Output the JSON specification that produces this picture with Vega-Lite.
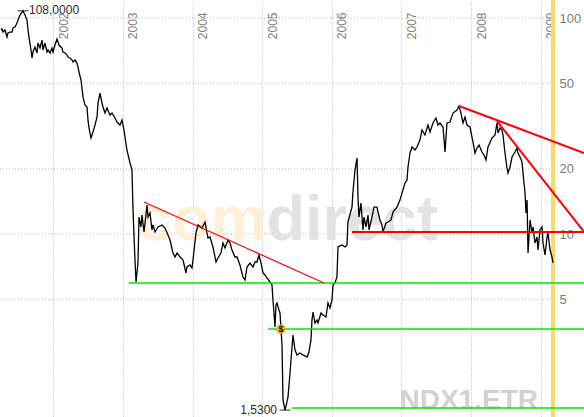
{
  "$schema": "https://vega.github.io/schema/vega-lite/v6.json",
  "width": 584,
  "height": 417,
  "autosize": {"type": "none"},
  "padding": 0,
  "background": "white",
  "config": {"view": {"stroke": null}, "font": "Liberation Sans"},
  "datasets": {
    "price": [
      {"t":2001.249,"v":87.99},{"t":2001.263,"v":88.93},{"t":2001.278,"v":86.13},{"t":2001.306,"v":87.99},{"t":2001.335,"v":81.66},{"t":2001.349,"v":85.22},{"t":2001.378,"v":86.13},{"t":2001.407,"v":86.13},{"t":2001.421,"v":89.89},{"t":2001.450,"v":90.85},
      {"t":2001.479,"v":94.81},{"t":2001.493,"v":97.89},{"t":2001.522,"v":103.25},{"t":2001.550,"v":106.6},{"t":2001.565,"v":108.0},{"t":2001.579,"v":105.47},{"t":2001.594,"v":103.25},{"t":2001.622,"v":97.89},{"t":2001.637,"v":87.99},{"t":2001.651,"v":81.66},
      {"t":2001.680,"v":71.09},{"t":2001.694,"v":65.28},{"t":2001.708,"v":69.59},{"t":2001.737,"v":73.4},{"t":2001.766,"v":68.86},{"t":2001.780,"v":76.6},{"t":2001.809,"v":72.63},{"t":2001.838,"v":79.09},{"t":2001.852,"v":71.09},{"t":2001.881,"v":76.6},
      {"t":2001.910,"v":69.59},{"t":2001.924,"v":71.09},{"t":2001.953,"v":68.86},{"t":2001.981,"v":72.63},{"t":2001.996,"v":69.59},{"t":2002.024,"v":74.99},{"t":2002.053,"v":79.94},{"t":2002.082,"v":74.99},{"t":2002.125,"v":72.63},{"t":2002.139,"v":69.59},
      {"t":2002.168,"v":68.86},{"t":2002.197,"v":67.4},{"t":2002.211,"v":65.98},{"t":2002.240,"v":65.28},{"t":2002.269,"v":63.9},{"t":2002.283,"v":62.56},{"t":2002.312,"v":63.9},{"t":2002.340,"v":61.89},{"t":2002.355,"v":59.31},{"t":2002.369,"v":56.23},
      {"t":2002.398,"v":51.63},{"t":2002.427,"v":43.07},{"t":2002.455,"v":39.55},{"t":2002.484,"v":38.72},{"t":2002.498,"v":33.71},{"t":2002.513,"v":30.95},{"t":2002.541,"v":27.82},{"t":2002.570,"v":29.66},{"t":2002.599,"v":31.96},{"t":2002.628,"v":34.81},
      {"t":2002.642,"v":40.41},{"t":2002.671,"v":44.95},{"t":2002.699,"v":40.41},{"t":2002.714,"v":38.72},{"t":2002.743,"v":36.32},{"t":2002.771,"v":38.31},{"t":2002.814,"v":35.55},{"t":2002.843,"v":36.32},{"t":2002.886,"v":34.44},{"t":2002.915,"v":33.0},
      {"t":2002.958,"v":31.96},{"t":2002.987,"v":33.71},{"t":2003.015,"v":30.3},{"t":2003.058,"v":24.48},{"t":2003.102,"v":21.32},{"t":2003.130,"v":19.78},{"t":2003.145,"v":12.91},{"t":2003.173,"v":7.579},{"t":2003.188,"v":5.995},{"t":2003.216,"v":7.341},
      {"t":2003.231,"v":11.98},{"t":2003.259,"v":10.78},{"t":2003.274,"v":12.24},{"t":2003.303,"v":10.22},{"t":2003.346,"v":13.62},{"t":2003.360,"v":11.98},{"t":2003.389,"v":12.51},{"t":2003.417,"v":10.44},{"t":2003.432,"v":11.01},{"t":2003.461,"v":10.22},
      {"t":2003.504,"v":10.78},{"t":2003.561,"v":11.01},{"t":2003.604,"v":10.66},{"t":2003.647,"v":9.894},{"t":2003.676,"v":9.381},{"t":2003.719,"v":8.167},{"t":2003.748,"v":7.826},{"t":2003.777,"v":8.167},{"t":2003.820,"v":7.826},{"t":2003.863,"v":7.579},
      {"t":2003.906,"v":6.599},{"t":2003.920,"v":7.034},{"t":2003.963,"v":7.186},{"t":2003.992,"v":6.96},{"t":2004.006,"v":7.579},{"t":2004.049,"v":10.11},{"t":2004.078,"v":11.01},{"t":2004.136,"v":10.66},{"t":2004.179,"v":11.37},{"t":2004.207,"v":10.11},
      {"t":2004.222,"v":9.583},{"t":2004.250,"v":9.686},{"t":2004.293,"v":8.706},{"t":2004.337,"v":7.42},{"t":2004.365,"v":7.743},{"t":2004.408,"v":8.167},{"t":2004.437,"v":9.086},{"t":2004.466,"v":8.614},{"t":2004.509,"v":9.381},{"t":2004.538,"v":9.086},
      {"t":2004.566,"v":8.432},{"t":2004.609,"v":7.826},{"t":2004.638,"v":7.826},{"t":2004.681,"v":7.186},{"t":2004.724,"v":6.323},{"t":2004.753,"v":6.124},{"t":2004.782,"v":7.034},{"t":2004.825,"v":7.341},{"t":2004.868,"v":7.034},{"t":2004.897,"v":7.42},
      {"t":2004.925,"v":7.42},{"t":2004.954,"v":7.994},{"t":2004.983,"v":7.341},{"t":2005.012,"v":6.599},{"t":2005.040,"v":6.459},{"t":2005.069,"v":6.256},{"t":2005.112,"v":5.995},{"t":2005.141,"v":5.806},{"t":2005.155,"v":4.948},{"t":2005.184,"v":3.711},
      {"t":2005.198,"v":4.691},{"t":2005.213,"v":4.792},{"t":2005.241,"v":4.448},{"t":2005.256,"v":4.308},{"t":2005.270,"v":3.632},{"t":2005.285,"v":3.063},{"t":2005.299,"v":1.704},{"t":2005.328,"v":1.53},{"t":2005.356,"v":1.668},{"t":2005.371,"v":1.759},
      {"t":2005.400,"v":2.272},{"t":2005.428,"v":2.999},{"t":2005.443,"v":3.407},{"t":2005.471,"v":2.904},{"t":2005.500,"v":2.754},{"t":2005.543,"v":2.813},{"t":2005.586,"v":2.754},{"t":2005.644,"v":2.695},{"t":2005.672,"v":2.843},{"t":2005.701,"v":3.231},
      {"t":2005.715,"v":3.998},{"t":2005.730,"v":4.354},{"t":2005.758,"v":3.872},{"t":2005.787,"v":3.998},{"t":2005.802,"v":3.872},{"t":2005.845,"v":4.308},{"t":2005.873,"v":4.217},{"t":2005.917,"v":4.128},{"t":2005.945,"v":4.792},{"t":2005.974,"v":4.544},
      {"t":2006.003,"v":4.948},{"t":2006.017,"v":5.806},{"t":2006.046,"v":5.931},{"t":2006.074,"v":6.323},{"t":2006.089,"v":8.706},{"t":2006.146,"v":8.894},{"t":2006.189,"v":8.706},{"t":2006.218,"v":8.894},{"t":2006.232,"v":11.37},{"t":2006.290,"v":13.33},
      {"t":2006.304,"v":15.64},{"t":2006.333,"v":19.78},{"t":2006.362,"v":22.48},{"t":2006.376,"v":14.83},{"t":2006.390,"v":11.98},{"t":2006.419,"v":13.91},{"t":2006.448,"v":10.44},{"t":2006.462,"v":11.98},{"t":2006.491,"v":10.78},{"t":2006.520,"v":12.24},
      {"t":2006.534,"v":10.44},{"t":2006.577,"v":11.98},{"t":2006.606,"v":13.33},{"t":2006.649,"v":13.33},{"t":2006.663,"v":12.64},{"t":2006.692,"v":11.61},{"t":2006.721,"v":11.01},{"t":2006.735,"v":10.22},{"t":2006.778,"v":11.24},{"t":2006.807,"v":11.37},
      {"t":2006.850,"v":11.61},{"t":2006.879,"v":12.64},{"t":2006.936,"v":13.33},{"t":2006.979,"v":14.36},{"t":2007.022,"v":15.98},{"t":2007.051,"v":17.22},{"t":2007.080,"v":17.78},{"t":2007.094,"v":20.43},{"t":2007.123,"v":23.71},{"t":2007.152,"v":25.28},
      {"t":2007.195,"v":24.48},{"t":2007.223,"v":25.28},{"t":2007.266,"v":27.24},{"t":2007.295,"v":30.3},{"t":2007.338,"v":28.73},{"t":2007.381,"v":31.96},{"t":2007.410,"v":29.66},{"t":2007.453,"v":32.65},{"t":2007.496,"v":34.44},{"t":2007.525,"v":31.96},
      {"t":2007.554,"v":32.65},{"t":2007.597,"v":31.29},{"t":2007.626,"v":23.97},{"t":2007.654,"v":32.65},{"t":2007.697,"v":33.0},{"t":2007.740,"v":36.32},{"t":2007.798,"v":37.5},{"t":2007.827,"v":39.14},{"t":2007.855,"v":36.32},{"t":2007.884,"v":32.65},
      {"t":2007.913,"v":34.81},{"t":2007.942,"v":31.96},{"t":2007.985,"v":31.29},{"t":2008.013,"v":28.12},{"t":2008.028,"v":26.66},{"t":2008.057,"v":23.71},{"t":2008.085,"v":25.01},{"t":2008.114,"v":25.82},{"t":2008.157,"v":23.97},{"t":2008.186,"v":23.21},
      {"t":2008.214,"v":22.01},{"t":2008.243,"v":25.28},{"t":2008.301,"v":27.82},{"t":2008.344,"v":28.73},{"t":2008.372,"v":32.65},{"t":2008.387,"v":29.35},{"t":2008.416,"v":30.95},{"t":2008.444,"v":30.3},{"t":2008.459,"v":28.73},{"t":2008.487,"v":23.71},
      {"t":2008.516,"v":20.21},{"t":2008.530,"v":19.16},{"t":2008.559,"v":20.43},{"t":2008.588,"v":22.72},{"t":2008.631,"v":23.97},{"t":2008.660,"v":25.01},{"t":2008.674,"v":23.71},{"t":2008.703,"v":22.72},{"t":2008.732,"v":21.55},{"t":2008.746,"v":19.16},
      {"t":2008.775,"v":15.48},{"t":2008.789,"v":12.51},{"t":2008.804,"v":14.36},{"t":2008.818,"v":8.167},{"t":2008.847,"v":11.61},{"t":2008.875,"v":10.11},{"t":2008.890,"v":10.78},{"t":2008.918,"v":9.086},{"t":2008.947,"v":9.686},{"t":2008.961,"v":8.432},
      {"t":2008.990,"v":10.44},{"t":2009.019,"v":10.78},{"t":2009.033,"v":9.086},{"t":2009.062,"v":7.994},{"t":2009.091,"v":9.686},{"t":2009.105,"v":10.11},{"t":2009.134,"v":8.432},{"t":2009.162,"v":7.826},{"t":2009.177,"v":7.341}
    ],
    "trend": [
      {"id":"r1","kind":"thin","t":2003.303,"v":14.06},{"id":"r1","kind":"thin","t":2005.888,"v":5.931},
      {"id":"r2","kind":"res","t":2006.290,"v":10.22},{"id":"r2","kind":"res","t":2009.622,"v":10.22},
      {"id":"r3","kind":"res","t":2007.827,"v":39.14},{"id":"r3","kind":"res","t":2009.622,"v":23.71},
      {"id":"r4","kind":"res","t":2008.372,"v":33.35},{"id":"r4","kind":"res","t":2009.622,"v":10.22},
      {"id":"g1","kind":"sup","t":2003.087,"v":5.931},{"id":"g1","kind":"sup","t":2009.622,"v":5.931},
      {"id":"g2","kind":"sup","t":2005.084,"v":3.632},{"id":"g2","kind":"sup","t":2009.622,"v":3.632},
      {"id":"g3","kind":"sup","t":2005.428,"v":1.565},{"id":"g3","kind":"sup","t":2009.622,"v":1.565}
    ],
    "marks": [
      {"name": "com", "t": 2003.202, "v": 9.381},
      {"name": "direct", "t": 2005.062, "v": 9.381},
      {"name": "NDX1.ETR", "t": 2008.961, "v": 1.545}
    ]
  },
  "layer": [
    {
      "data": {"values": [{"t": 2009.148, "t2": 2009.206}]},
      "mark": {"type": "rect", "color": "#f8d96a"},
      "encoding": {
        "x": {"field": "t", "type": "quantitative"},
        "x2": {"field": "t2"}
      }
    },
    {
      "data": {"values": [{"v": 5}, {"v": 10}, {"v": 20}, {"v": 50}, {"v": 100}]},
      "mark": {"type": "rule", "color": "#b4b4b4", "strokeDash": [1, 2], "strokeWidth": 1},
      "encoding": {
        "y": {"field": "v", "type": "quantitative"},
        "x": {"datum": 2001.2345, "type": "quantitative"},
        "x2": {"datum": 2009.15}
      }
    },
    {
      "data": {"name": "marks"},
      "transform": [{"filter": "datum.name === 'com'"}],
      "mark": {"type": "text", "align": "left", "baseline": "alphabetic", "fontSize": 63, "fontWeight": "bold", "color": "#fdf0d6"},
      "encoding": {
        "x": {"field": "t", "type": "quantitative"},
        "y": {"field": "v", "type": "quantitative"},
        "text": {"field": "name"}
      }
    },
    {
      "data": {"name": "marks"},
      "transform": [{"filter": "datum.name === 'direct'"}],
      "mark": {"type": "text", "align": "left", "baseline": "alphabetic", "fontSize": 63, "fontWeight": "bold", "color": "#e3e3e3"},
      "encoding": {
        "x": {"field": "t", "type": "quantitative"},
        "y": {"field": "v", "type": "quantitative"},
        "text": {"field": "name"}
      }
    },
    {
      "data": {"name": "marks"},
      "transform": [{"filter": "datum.name === 'NDX1.ETR'"}],
      "mark": {"type": "text", "align": "right", "baseline": "alphabetic", "fontSize": 28, "fontWeight": "bold", "color": "#d2d2d2"},
      "encoding": {
        "x": {"field": "t", "type": "quantitative"},
        "y": {"field": "v", "type": "quantitative"},
        "text": {"field": "name"}
      }
    },
    {
      "data": {"name": "price"},
      "mark": {"type": "line", "color": "#000000", "strokeWidth": 1.3},
      "encoding": {
        "x": {
          "field": "t", "type": "quantitative",
          "scale": {"domain": [2001.2345, 2009.622], "nice": false, "zero": false},
          "axis": {
            "orient": "top", "values": [2002, 2003, 2004, 2005, 2006, 2007, 2008, 2009], "format": "d",
            "grid": true, "gridColor": "#b4b4b4", "gridDash": [1, 2], "gridWidth": 1,
            "ticks": false, "tickSize": 0, "domain": false,
            "labelAngle": 270, "labelAlign": "right", "labelBaseline": "top", "labelOffset": 5, "labelPadding": 0,
            "offset": -12, "labelFontSize": 12, "labelColor": "#808080", "title": null,
            "labelFlush": false, "labelOverlap": false, "labelBound": false
          }
        },
        "y": {
          "field": "v", "type": "quantitative",
          "scale": {"type": "log", "domain": [1.4212, 121.2], "nice": false, "zero": false},
          "axis": {
            "orient": "right", "values": [5, 10, 20, 50, 100], "format": "d",
            "grid": false, "ticks": false, "tickSize": 0, "domain": false,
            "labelAlign": "left", "labelBaseline": "middle", "labelPadding": 3, "offset": -28,
            "labelFontSize": 13, "labelColor": "#7a7a7a", "title": null,
            "labelFlush": false, "labelOverlap": false, "labelBound": false
          }
        }
      }
    },
    {
      "data": {"name": "trend"},
      "transform": [{"filter": "datum.kind === 'sup'"}],
      "mark": {"type": "line", "color": "#00e600", "strokeWidth": 1.6},
      "encoding": {
        "x": {"field": "t", "type": "quantitative"},
        "y": {"field": "v", "type": "quantitative"},
        "detail": {"field": "id"}
      }
    },
    {
      "data": {"name": "trend"},
      "transform": [{"filter": "datum.kind === 'res'"}],
      "mark": {"type": "line", "color": "#ff0000", "strokeWidth": 2},
      "encoding": {
        "x": {"field": "t", "type": "quantitative"},
        "y": {"field": "v", "type": "quantitative"},
        "detail": {"field": "id"}
      }
    },
    {
      "data": {"name": "trend"},
      "transform": [{"filter": "datum.kind === 'thin'"}],
      "mark": {"type": "line", "color": "#ff0000", "strokeWidth": 1.2},
      "encoding": {
        "x": {"field": "t", "type": "quantitative"},
        "y": {"field": "v", "type": "quantitative"},
        "detail": {"field": "id"}
      }
    },
    {
      "data": {"values": [{"t": 2001.565, "v": 108.0}, {"t": 2005.328, "v": 1.53}]},
      "mark": {"type": "tick", "orient": "horizontal", "size": 11, "thickness": 1.2, "color": "#000000"},
      "encoding": {
        "x": {"field": "t", "type": "quantitative"},
        "y": {"field": "v", "type": "quantitative"}
      }
    },
    {
      "data": {"values": [{"t": 2001.565, "v": 108.0, "label": "108,0000"}]},
      "mark": {"type": "text", "align": "left", "baseline": "middle", "dx": 6, "dy": -1, "fontSize": 12, "color": "#2a2a2a"},
      "encoding": {
        "x": {"field": "t", "type": "quantitative"},
        "y": {"field": "v", "type": "quantitative"},
        "text": {"field": "label"}
      }
    },
    {
      "data": {"values": [{"t": 2005.328, "v": 1.53, "label": "1,5300"}]},
      "mark": {"type": "text", "align": "right", "baseline": "middle", "dx": -8, "fontSize": 12, "color": "#2a2a2a"},
      "encoding": {
        "x": {"field": "t", "type": "quantitative"},
        "y": {"field": "v", "type": "quantitative"},
        "text": {"field": "label"}
      }
    },
    {
      "data": {"values": [{"t": 2005.270, "v": 3.632, "label": "$"}]},
      "layer": [
        {
          "mark": {"type": "point", "shape": "circle", "filled": true, "size": 70, "fill": "#f6c21c", "stroke": "#e39a00", "strokeWidth": 1, "opacity": 1},
          "encoding": {
            "x": {"field": "t", "type": "quantitative"},
            "y": {"field": "v", "type": "quantitative"}
          }
        },
        {
          "mark": {"type": "text", "align": "center", "baseline": "middle", "fontSize": 9, "fontWeight": "bold", "color": "#000000"},
          "encoding": {
            "x": {"field": "t", "type": "quantitative"},
            "y": {"field": "v", "type": "quantitative"},
            "text": {"field": "label"}
          }
        }
      ]
    }
  ]
}
